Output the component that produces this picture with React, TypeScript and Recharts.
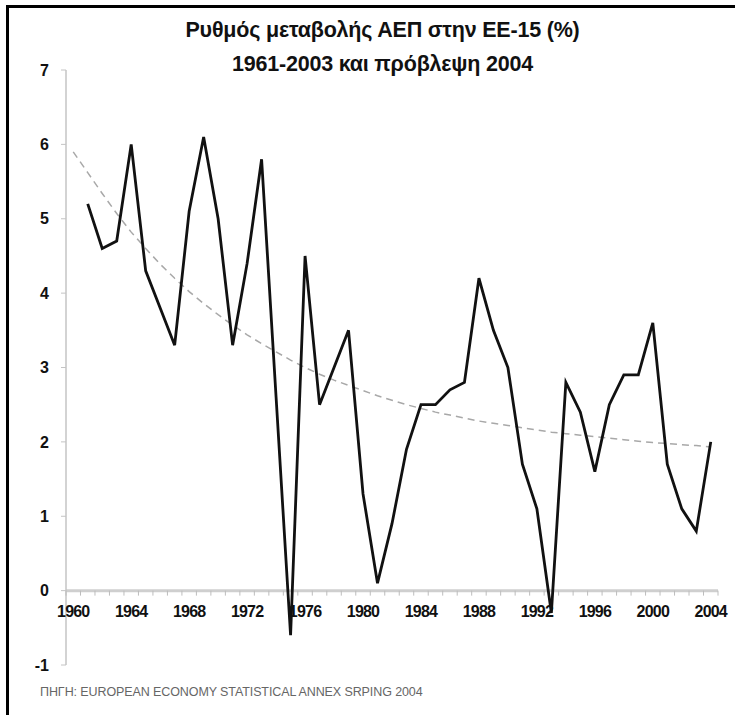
import React from "react";
import {
  LineChart,
  Line,
  XAxis,
  YAxis,
  ReferenceLine,
  ReferenceDot,
} from "recharts";

// years shown on the category axis
const years = [
  1960, 1961, 1962, 1963, 1964, 1965, 1966, 1967, 1968, 1969,
  1970, 1971, 1972, 1973, 1974, 1975, 1976, 1977, 1978, 1979,
  1980, 1981, 1982, 1983, 1984, 1985, 1986, 1987, 1988, 1989,
  1990, 1991, 1992, 1993, 1994, 1995, 1996, 1997, 1998, 1999,
  2000, 2001, 2002, 2003, 2004,
];

// GDP growth EU-15 (%), 1961-2003 + forecast 2004 (null for 1960)
const gdpGrowth = [
  null, 5.2, 4.6, 4.7, 6.0, 4.3, 3.8, 3.3, 5.1, 6.1,
  5.0, 3.3, 4.4, 5.8, 2.6, -0.6, 4.5, 2.5, 3.0, 3.5,
  1.3, 0.1, 0.9, 1.9, 2.5, 2.5, 2.7, 2.8, 4.2, 3.5,
  3.0, 1.7, 1.1, -0.3, 2.8, 2.4, 1.6, 2.5, 2.9, 2.9,
  3.6, 1.7, 1.1, 0.8, 2.0,
];

// dashed trend line
const trend = [
  5.9, 5.62, 5.34, 5.07, 4.82, 4.6, 4.39, 4.2, 4.02, 3.86,
  3.71, 3.57, 3.44, 3.32, 3.21, 3.1, 3.0, 2.91, 2.83, 2.76,
  2.69, 2.62, 2.56, 2.5, 2.45, 2.4, 2.36, 2.32, 2.28, 2.25,
  2.22, 2.19, 2.16, 2.13, 2.11, 2.09, 2.07, 2.05, 2.03, 2.01,
  1.99, 1.98, 1.96, 1.95, 1.93,
];

const xLabels = [1960, 1964, 1968, 1972, 1976, 1980, 1984, 1988, 1992, 1996, 2000, 2004];
const yTicks = [-1, 0, 1, 2, 3, 4, 5, 6, 7];
const xBoundaries = [...years.map((y) => y - 0.5), 2004.5];

const data = years.map((year, i) => ({
  year,
  gdp: gdpGrowth[i],
  trend: trend[i],
}));

const font = "'Liberation Sans', Arial, sans-serif";

const AxisTick = (props: any) => (
  <line x1={props.cx} y1={props.cy} x2={props.cx} y2={props.cy + 5} stroke="#bdbdbd" strokeWidth={1} />
);

const AxisLabel = (props: any) => (
  <text
    x={props.cx}
    y={props.cy + 21}
    textAnchor="middle"
    dominantBaseline="central"
    fontFamily={font}
    fontWeight="bold"
    fontSize={16}
    letterSpacing={-0.8}
    fill="#111"
  >
    {props.label}
  </text>
);

export default function App() {
  return (
    <div style={{ position: "absolute", left: 0, top: 0, width: 735, height: 715, background: "#fff", overflow: "hidden" }}>
      <div
        style={{
          position: "absolute",
          left: 6,
          top: 5,
          width: 760,
          height: 740,
          borderTop: "3px solid #000",
          borderLeft: "3px solid #000",
        }}
      />
      <div
        style={{
          position: "absolute",
          top: 13,
          left: 0,
          width: 765,
          textAlign: "center",
          fontFamily: font,
          fontWeight: "bold",
          fontSize: 21.5,
          lineHeight: "34px",
          color: "#111",
          letterSpacing: -0.2,
        }}
      >
        <div>Ρυθμός μεταβολής ΑΕΠ στην ΕΕ-15 (%)</div>
        <div>1961-2003 και πρόβλεψη 2004</div>
      </div>
      <div style={{ position: "absolute", left: 0, top: 0 }}>
        <LineChart width={735} height={715} data={data} margin={{ top: 70, right: 17, bottom: 50, left: 6 }}>
          <XAxis type="number" dataKey="year" domain={[1959.5, 2004.5]} hide />
          <YAxis
            domain={[-1, 7]}
            ticks={yTicks}
            width={60}
            axisLine={{ stroke: "#c4c4c4", strokeWidth: 1.5 }}
            tickLine={{ stroke: "#c4c4c4" }}
            tickSize={5}
            tickMargin={12}
            tick={{ fontFamily: font, fontWeight: "bold", fontSize: 16, fill: "#111" }}
          />
          <ReferenceLine y={0} stroke="#cfcfcf" strokeWidth={3} />
          {xBoundaries.map((b) => (
            <ReferenceDot key={"t" + b} x={b} y={0} r={0} shape={<AxisTick />} />
          ))}
          {xLabels.map((y) => (
            <ReferenceDot key={"l" + y} x={y} y={0} r={0} shape={(p: any) => <AxisLabel {...p} label={y} />} />
          ))}
          <Line
            type="linear"
            dataKey="trend"
            stroke="#a8a8a8"
            strokeWidth={1.5}
            strokeDasharray="7 5"
            dot={false}
            isAnimationActive={false}
          />
          <Line
            type="linear"
            dataKey="gdp"
            stroke="#111"
            strokeWidth={2.8}
            strokeLinejoin="miter"
            dot={false}
            isAnimationActive={false}
          />
        </LineChart>
      </div>
      <div
        style={{
          position: "absolute",
          left: 40,
          top: 685,
          fontFamily: font,
          fontSize: 12.5,
          color: "#666",
          letterSpacing: -0.1,
          whiteSpace: "nowrap",
        }}
      >
        ΠΗΓΗ: EUROPEAN ECONOMY STATISTICAL ANNEX SRPING 2004
      </div>
    </div>
  );
}
